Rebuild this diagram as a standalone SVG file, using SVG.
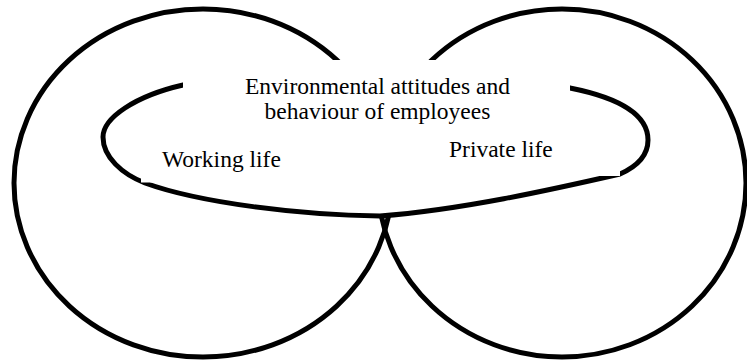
<svg xmlns="http://www.w3.org/2000/svg" width="747" height="362" viewBox="0 0 747 362">
  <style>
    .ring { fill: none; stroke: #000; stroke-width: 5; }
    .core { fill: #fff; stroke: #000; stroke-width: 5; stroke-linejoin: round; }
    .mask { fill: #fff; stroke: none; }
    .label { font-family: "Liberation Serif", "Times New Roman", serif; font-size: 23.5px; fill: #000; }
  </style>
  <rect width="747" height="362" fill="#fff"/>

  <!-- two overlapping life spheres -->
  <g id="working-sphere">
    <ellipse class="ring" cx="203" cy="183" rx="189" ry="174"/>
  </g>
  <g id="private-sphere">
    <ellipse class="ring" cx="562" cy="183" rx="184" ry="174"/>
  </g>

  <!-- shared core: attitudes and behaviour -->
  <g id="core">
    <path class="core" d="M 380 216 C 300 215 200 203 145 183 C 122 174 103 157 103 137 C 103 118 135 96 183 85 C 250 65 500 65 570 88 C 620 98 648 115 648 140 C 648 155 638 166 620 174 C 550 190 460 210 380 216 Z"/>
  </g>

  <g id="title">
    <rect class="mask" x="183" y="60" width="387" height="66"/>
    <text class="label" x="377.5" y="94" text-anchor="middle">Environmental attitudes and</text>
    <text class="label" x="377.5" y="119" text-anchor="middle">behaviour of employees</text>
  </g>

  <g id="working-label">
    <rect class="mask" x="141" y="145" width="150" height="37.5"/>
    <text class="label" x="162" y="167">Working life</text>
  </g>

  <g id="private-label">
    <rect class="mask" x="440" y="138" width="180" height="38"/>
    <text class="label" x="449" y="157">Private life</text>
  </g>
</svg>
